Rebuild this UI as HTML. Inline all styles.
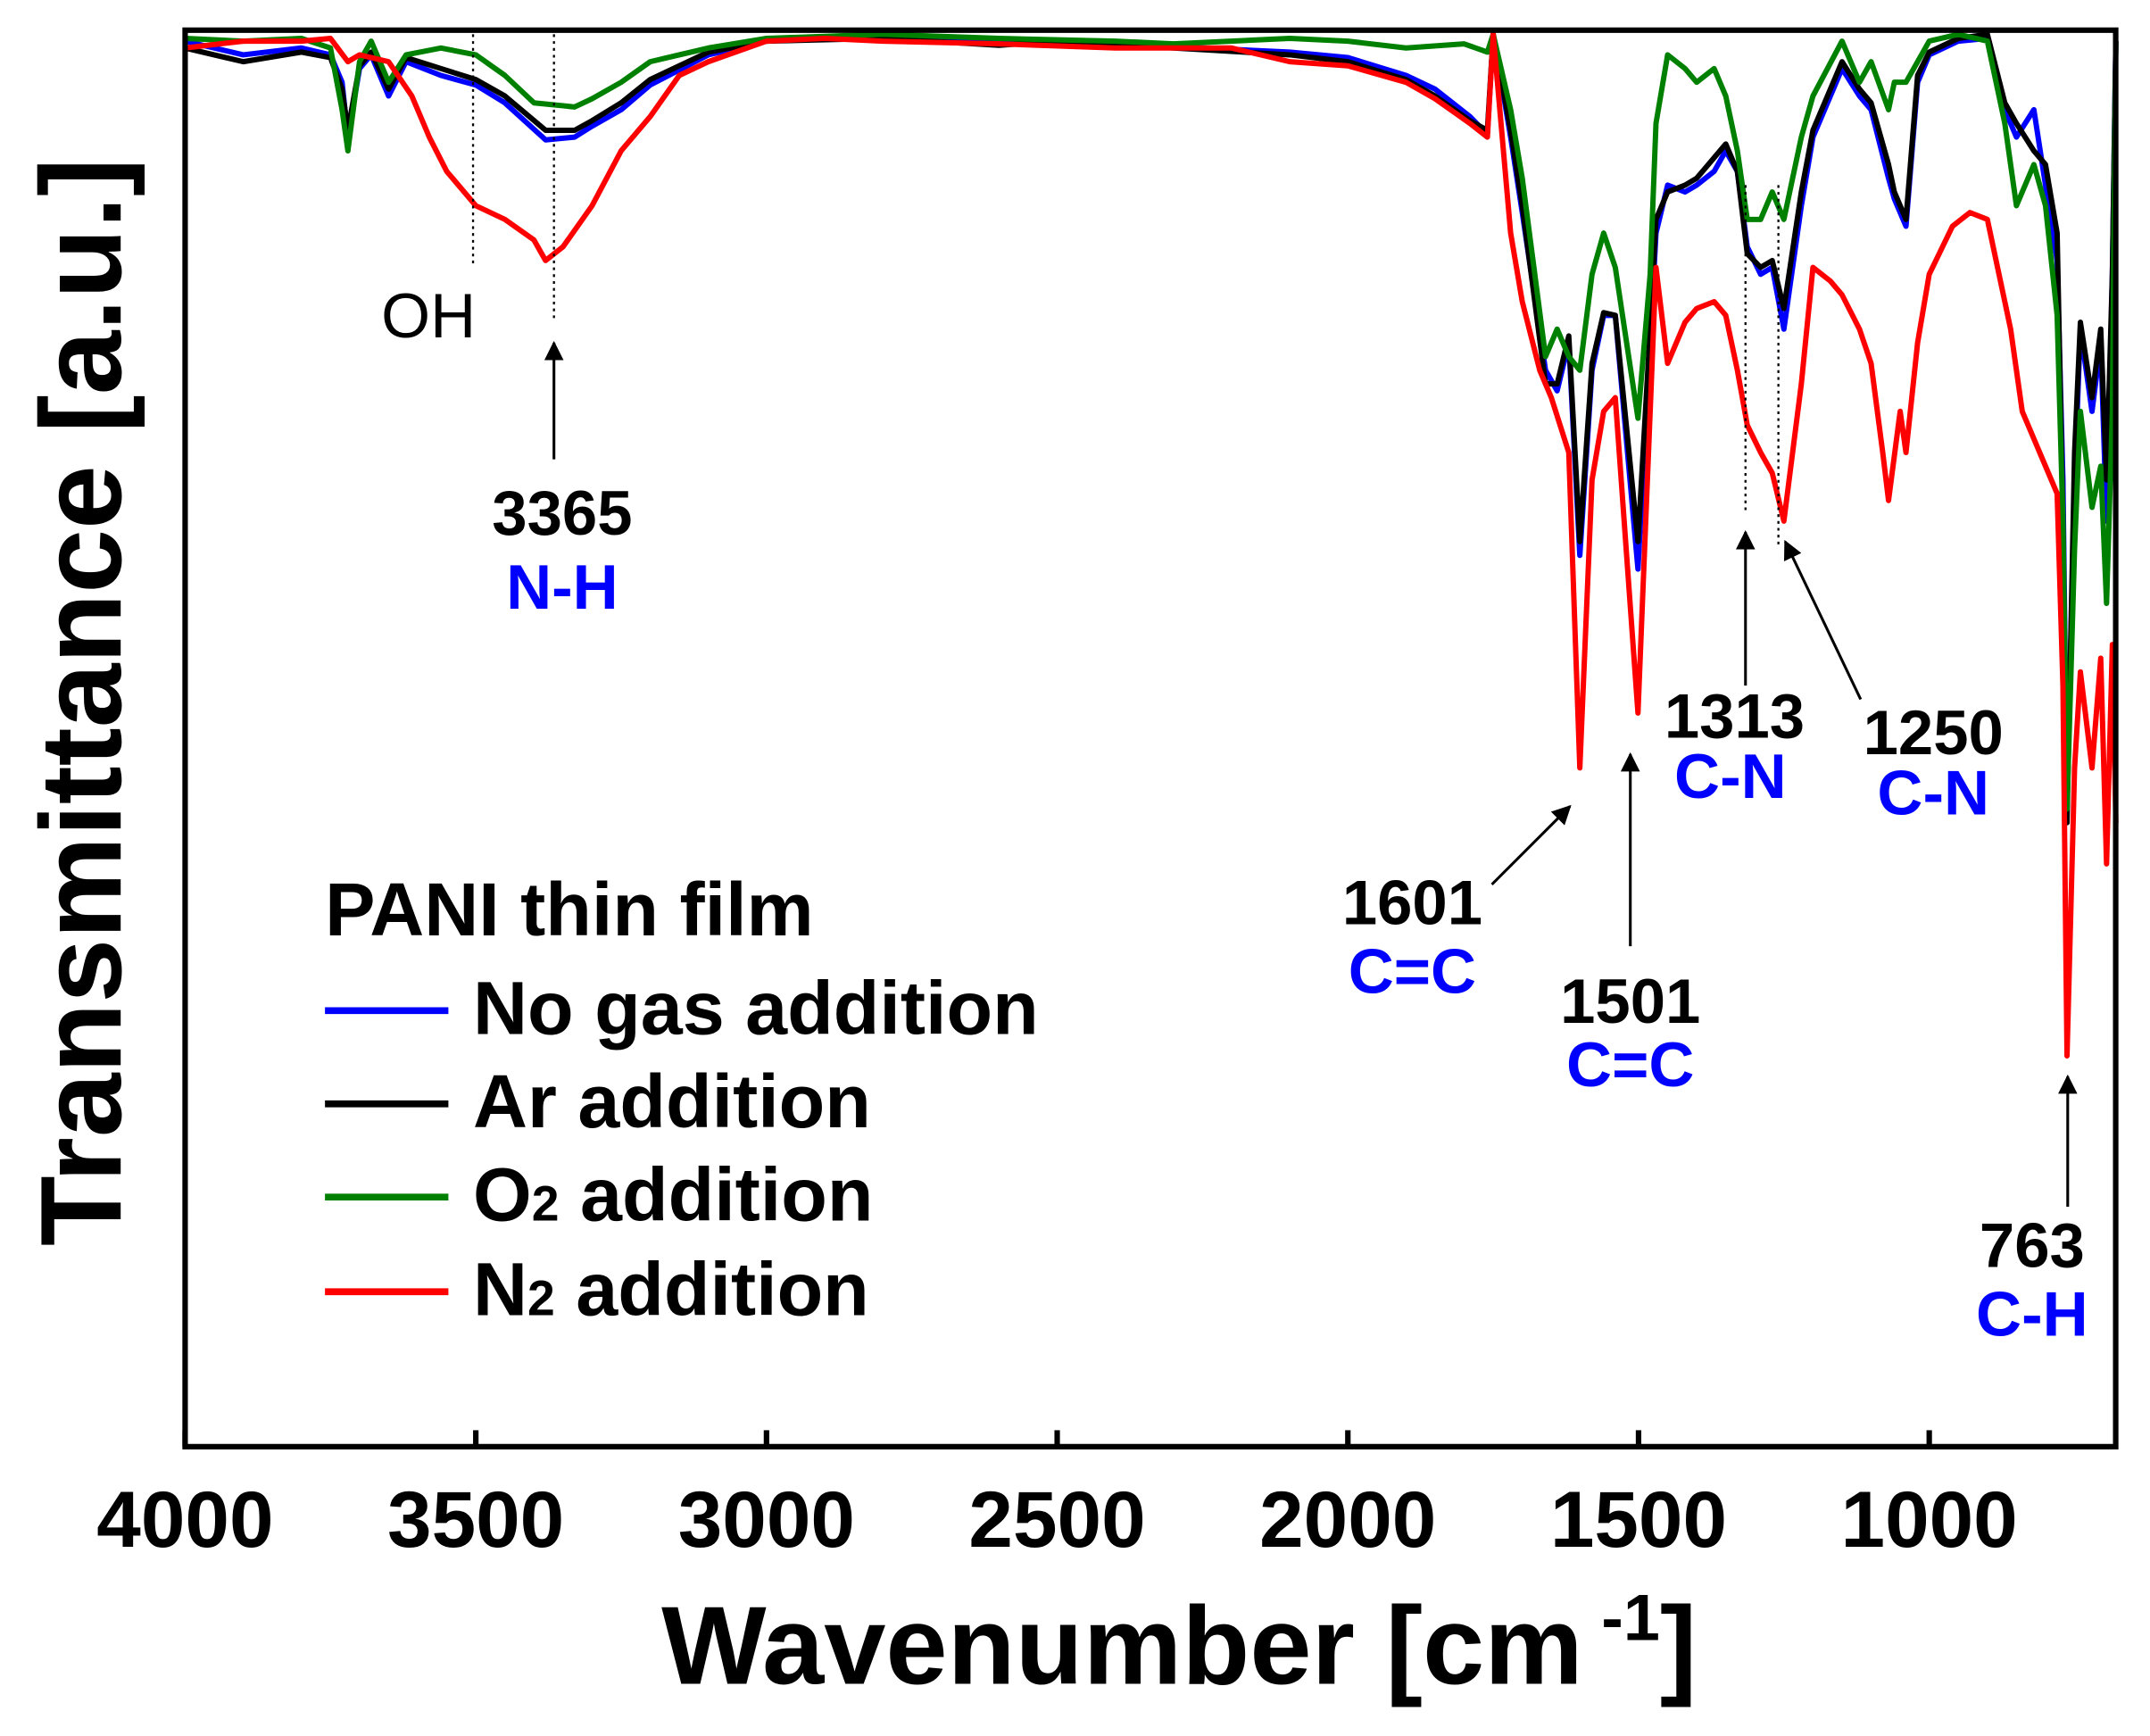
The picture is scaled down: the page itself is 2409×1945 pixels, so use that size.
<!DOCTYPE html>
<html><head><meta charset="utf-8"><style>
html,body{margin:0;padding:0;background:#fff;}
svg{display:block;}
text{font-family:"Liberation Sans",Arial,sans-serif;font-weight:bold;}
</style></head><body>
<svg width="2409" height="1945" viewBox="0 0 1568 1266" xmlns="http://www.w3.org/2000/svg">
<defs><marker id="ah" viewBox="0 0 10 10" refX="9" refY="5" markerWidth="7" markerHeight="7" orient="auto"><path d="M0,0 L10,5 L0,10 z" fill="#000"/></marker></defs>
<g fill="none" stroke-width="6" stroke-linejoin="round">
<g transform="translate(1831,0) scale(-0.424,1)">
<polyline vector-effect="non-scaling-stroke" stroke="#0000ff" points="4000,30 3900,40 3800,35 3750,40 3730,60 3720,100 3700,50 3680,40 3650,70 3620,45 3560,55 3500,62 3450,75 3380,102 3330,100 3300,92 3250,80 3200,62 3100,40 3000,30 2800,25 2600,30 2500,32 2300,34 2100,38 2000,42 1900,55 1850,65 1790,85 1760,98 1750,25 1720,100 1700,155 1660,270 1640,285 1620,250 1601,405 1580,270 1560,230 1540,230 1501,415 1480,250 1470,170 1450,135 1420,140 1400,135 1370,125 1350,110 1330,125 1313,180 1290,200 1270,195 1250,240 1220,150 1200,100 1150,50 1120,70 1100,80 1070,130 1060,145 1040,165 1020,60 1000,40 950,30 900,28 870,80 850,100 820,80 800,135 780,190 770,350 763,590 750,350 740,240 720,300 705,250 695,380 685,200 679,30"/>
<polyline vector-effect="non-scaling-stroke" stroke="#000" points="4000,35 3900,45 3800,38 3750,42 3730,65 3720,95 3700,48 3680,38 3650,65 3620,42 3560,50 3500,58 3450,70 3380,95 3330,95 3300,88 3250,75 3200,58 3100,38 3000,30 2800,28 2600,33 2500,30 2300,35 2100,40 2000,45 1900,58 1850,70 1790,88 1760,95 1750,25 1720,95 1700,150 1660,280 1640,280 1620,245 1601,395 1580,265 1560,228 1540,230 1501,395 1480,240 1470,160 1450,140 1420,135 1400,130 1370,115 1350,105 1330,125 1313,185 1290,195 1270,190 1250,225 1220,140 1200,95 1150,45 1120,65 1100,75 1070,120 1060,140 1040,160 1020,55 1000,38 950,28 900,25 870,75 850,90 820,110 800,120 780,170 770,380 763,600 750,330 740,235 720,290 705,240 695,350 685,200 679,30"/>
<polyline vector-effect="non-scaling-stroke" stroke="#008000" points="4000,28 3900,30 3800,28 3750,35 3730,80 3720,110 3700,45 3680,30 3650,60 3620,40 3560,35 3500,40 3450,55 3400,75 3330,78 3300,72 3250,60 3200,45 3100,35 3000,28 2800,25 2600,28 2400,30 2300,32 2100,28 2000,30 1900,35 1800,32 1760,38 1750,25 1720,80 1700,130 1660,260 1640,240 1620,260 1601,270 1580,200 1560,170 1540,195 1501,305 1480,200 1470,90 1450,40 1420,50 1400,60 1370,50 1350,70 1330,110 1313,160 1290,160 1270,140 1250,160 1220,100 1200,70 1150,30 1120,60 1100,45 1070,80 1060,60 1040,60 1000,30 950,25 900,30 870,90 850,150 820,120 800,150 780,230 770,380 763,590 750,400 740,300 720,370 705,340 695,440 685,300 679,30"/>
<polyline vector-effect="non-scaling-stroke" stroke="#ff0000" points="4000,35 3900,30 3800,30 3750,28 3720,45 3700,40 3650,45 3610,70 3580,100 3550,125 3500,150 3450,160 3400,175 3380,190 3350,180 3300,150 3250,110 3200,85 3150,55 3100,45 3000,30 2900,28 2800,30 2600,32 2400,35 2200,35 2100,45 2000,48 1900,60 1850,72 1790,90 1760,100 1750,25 1720,170 1700,220 1670,270 1650,290 1620,330 1601,560 1580,350 1560,300 1540,290 1501,520 1480,300 1470,195 1450,265 1420,235 1400,225 1370,220 1350,230 1330,270 1313,310 1290,330 1270,345 1250,380 1220,280 1200,195 1170,205 1150,215 1120,240 1100,265 1080,330 1070,365 1050,300 1040,330 1020,250 1000,200 960,165 930,155 900,160 880,200 860,240 840,300 820,320 800,340 780,360 770,500 763,770 750,560 740,490 720,560 705,480 695,630 685,470 679,600"/>
</g>
</g>
<g stroke="#000" stroke-width="1.5" stroke-dasharray="2,3" fill="none">
<line x1="345" y1="25" x2="345" y2="195"/>
<line x1="404" y1="25" x2="404" y2="232"/>
<line x1="1273" y1="135" x2="1273" y2="375"/>
<line x1="1297" y1="135" x2="1297" y2="398"/>
</g>
<g stroke="#000" stroke-width="2" marker-end="url(#ah)">
<line x1="404" y1="335" x2="404" y2="250"/>
<line x1="1088" y1="645" x2="1145" y2="588"/>
<line x1="1189" y1="690" x2="1189" y2="550"/>
<line x1="1273" y1="500" x2="1273" y2="388"/>
<line x1="1357" y1="510" x2="1302" y2="395"/>
<line x1="1508" y1="880" x2="1508" y2="785"/>
</g>
<rect x="135" y="22" width="1408" height="1033" fill="none" stroke="#000" stroke-width="4"/>
<g stroke="#000" stroke-width="4">
<line x1="135" y1="1055" x2="135" y2="1043"/><line x1="347" y1="1055" x2="347" y2="1043"/>
<line x1="559" y1="1055" x2="559" y2="1043"/><line x1="771" y1="1055" x2="771" y2="1043"/>
<line x1="983" y1="1055" x2="983" y2="1043"/><line x1="1195" y1="1055" x2="1195" y2="1043"/>
<line x1="1407" y1="1055" x2="1407" y2="1043"/>
</g>
<g font-size="58" text-anchor="middle">
<text x="135" y="1128">4000</text><text x="347" y="1128">3500</text><text x="559" y="1128">3000</text>
<text x="771" y="1128">2500</text><text x="983" y="1128">2000</text><text x="1195" y="1128">1500</text>
<text x="1407" y="1128">1000</text>
</g>
<text x="860" y="1228" font-size="81" text-anchor="middle">Wavenumber [cm<tspan dy="-32" font-size="48"> -1</tspan><tspan dy="32">]</tspan></text>
<text transform="translate(88,512) rotate(-90)" font-size="84" text-anchor="middle">Transmittance [a.u.]</text>
<text x="237" y="682" font-size="55">PANI thin film</text>
<g stroke-width="5"><line x1="237" y1="737" x2="327" y2="737" stroke="#0000ff"/><line x1="237" y1="805" x2="327" y2="805" stroke="#000"/><line x1="237" y1="873" x2="327" y2="873" stroke="#008000"/><line x1="237" y1="942" x2="327" y2="942" stroke="#ff0000"/></g>
<g font-size="55"><text x="345" y="754">No gas addition</text><text x="345" y="822">Ar addition</text><text x="345" y="890">O<tspan font-size="36">2</tspan> addition</text><text x="345" y="959">N<tspan font-size="36">2</tspan> addition</text></g>
<text x="278" y="246" font-size="46" style="font-weight:normal">OH</text>
<g font-size="46" text-anchor="middle">
<text x="410" y="390">3365</text><text x="410" y="444" fill="#0000ff">N-H</text>
<text x="1030" y="674">1601</text><text x="1030" y="724" fill="#0000ff">C=C</text>
<text x="1189" y="746">1501</text><text x="1189" y="792" fill="#0000ff">C=C</text>
<text x="1265" y="538">1313</text><text x="1262" y="582" fill="#0000ff">C-N</text>
<text x="1410" y="550">1250</text><text x="1410" y="594" fill="#0000ff">C-N</text>
<text x="1482" y="924">763</text><text x="1482" y="974" fill="#0000ff">C-H</text>
</g>
</svg>
</body></html>
